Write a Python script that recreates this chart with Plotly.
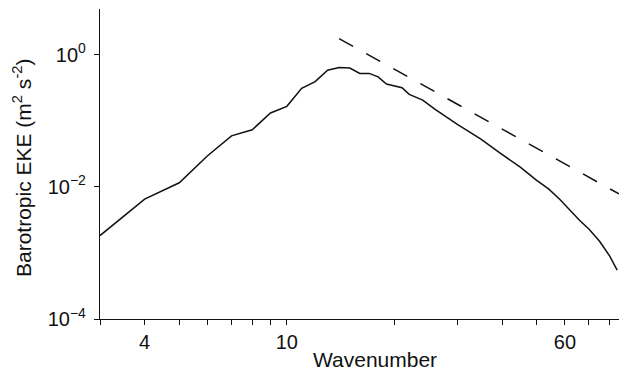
import numpy as np
import plotly.graph_objects as go

# Barotropic eddy kinetic energy spectrum
wavenumber = [3, 4, 5, 6, 7, 8, 9, 10, 11, 12, 13, 14, 15, 16, 17, 18, 19, 20,
              21, 22, 24, 26, 28, 30, 32, 35, 39, 42, 45, 50, 54, 58, 62, 66,
              70, 75, 80, 84]
eke = [1.83e-3, 6.5e-3, 0.0115, 0.0295, 0.059, 0.073, 0.131, 0.165, 0.31,
       0.39, 0.58, 0.64, 0.625, 0.52, 0.52, 0.46, 0.36, 0.335, 0.315, 0.25,
       0.205, 0.148, 0.112, 0.088, 0.071, 0.052, 0.034, 0.026, 0.0198,
       0.0125, 0.0093, 0.0065, 0.0044, 0.0031, 0.0023, 0.0015, 9.0e-4, 5.5e-4]

# k^-3 reference slope
ref_k = [14, 85]
ref_eke = [1.75, 0.0078]

x_tickvals = [3, 4, 5, 6, 7, 8, 9, 10, 20, 30, 40, 50, 60, 70, 80]
x_ticktext = ["", "4", "", "", "", "", "", "10", "", "", "", "", "60", "", ""]
y_tickvals = [1, 1e-2, 1e-4]
y_ticktext = ["10<sup>0</sup>", "10<sup>\u22122</sup>", "10<sup>\u22124</sup>"]

font = "Liberation Sans, Arial, Helvetica, sans-serif"
ink = "#111111"

fig = go.Figure()
fig.add_trace(go.Scatter(x=wavenumber, y=eke, mode="lines",
                         line=dict(color=ink, width=1.5),
                         showlegend=False))
fig.add_trace(go.Scatter(x=ref_k, y=ref_eke, mode="lines",
                         line=dict(color=ink, width=1.5, dash="16px,15px"),
                         showlegend=False))

fig.update_layout(
    width=619, height=370,
    margin=dict(l=100, r=0, t=9, b=51),
    paper_bgcolor="white", plot_bgcolor="white",
    font=dict(family=font, size=20, color=ink),
    xaxis=dict(type="log", range=[np.log10(3), np.log10(85)],
               tickvals=x_tickvals, ticktext=x_ticktext,
               ticks="outside", ticklen=5, tickwidth=1, tickcolor=ink,
               showline=True, linecolor=ink, linewidth=1.2,
               showgrid=False, zeroline=False,
               tickfont=dict(size=20)),
    yaxis=dict(type="log", range=[-4, np.log10(4.9)],
               tickvals=y_tickvals, ticktext=y_ticktext,
               ticks="outside", ticklen=5, tickwidth=1, tickcolor=ink,
               ticklabelstandoff=4,
               showline=True, linecolor=ink, linewidth=1.2,
               showgrid=False, zeroline=False,
               tickfont=dict(size=20)),
    annotations=[
        dict(text="Wavenumber", xref="paper", yref="paper",
             x=0.53, y=0, yshift=-40, xanchor="center", yanchor="middle",
             showarrow=False, font=dict(size=21)),
        dict(text="Barotropic EKE (m<sup>2</sup> s<sup>-2</sup>)",
             xref="paper", yref="paper", x=0, y=0.487, xshift=-78,
             xanchor="center", yanchor="middle", textangle=-90,
             showarrow=False, font=dict(size=21)),
    ],
)

fig.write_html("out.html")
